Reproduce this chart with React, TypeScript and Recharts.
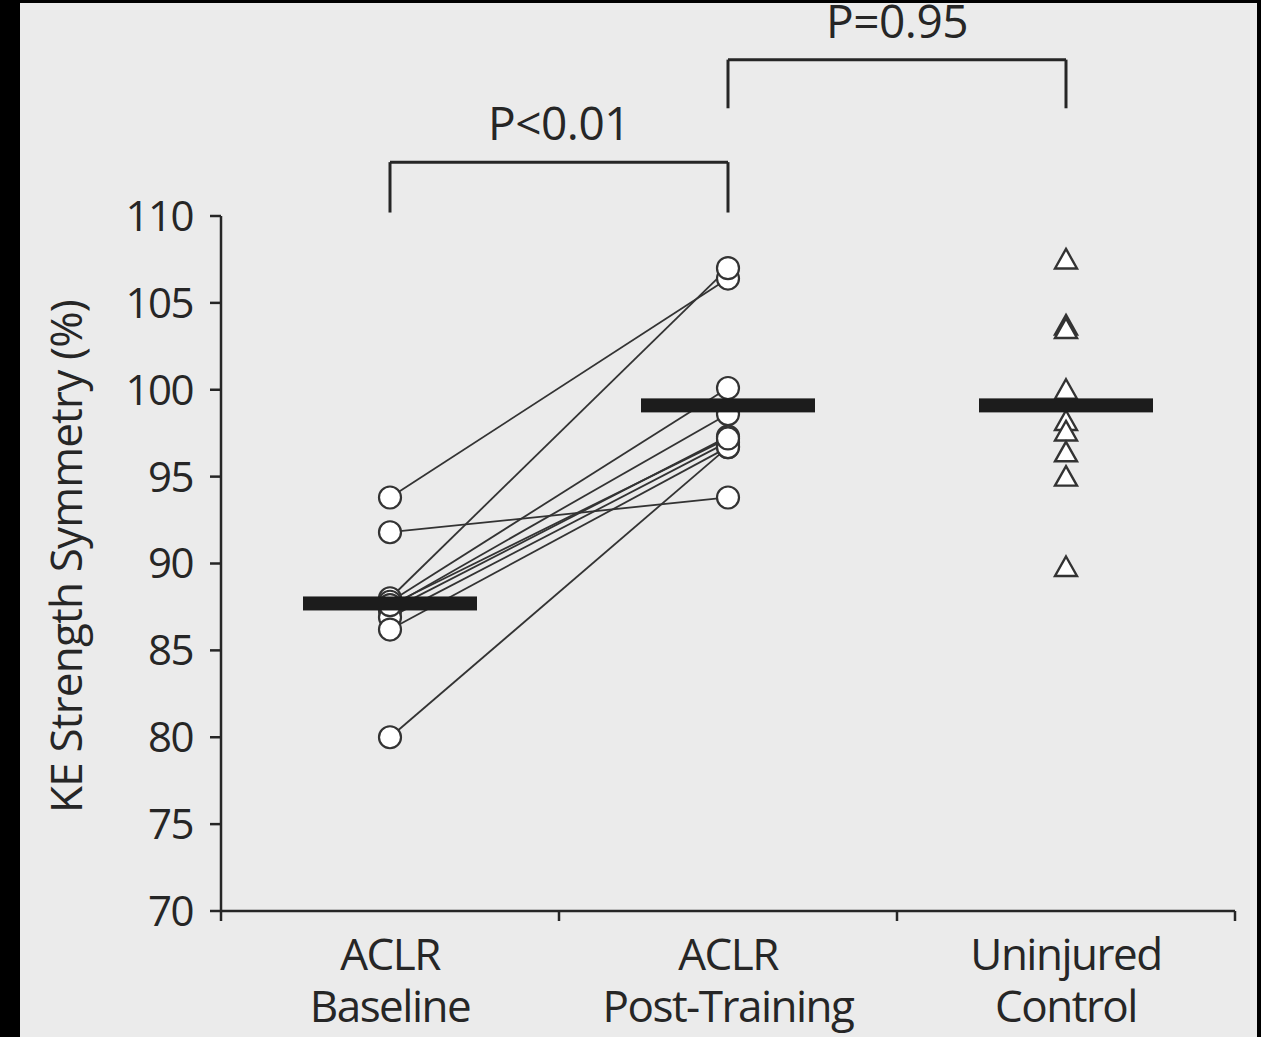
import { ComposedChart, Line, Scatter, XAxis, YAxis, ReferenceLine } from "recharts";

// group positions on a 0..3 numeric axis (one unit per group)
const GROUP_X = [0.5, 1.5, 2.5];
const GROUP_LABELS = [
  ["ACLR", "Baseline"],
  ["ACLR", "Post-Training"],
  ["Uninjured", "Control"],
];
const GROUP_EDGES = [0, 1, 2, 3];

// paired ACLR subjects, same order in both arrays
const BASELINE = [93.8, 91.8, 80.0, 88.0, 87.8, 87.5, 87.3, 86.9, 86.2, 87.6];
const POST_TRAINING = [106.4, 93.8, 96.7, 107.0, 100.1, 98.6, 97.3, 97.0, 96.7, 97.2];
const CONTROL = [107.5, 103.7, 103.5, 100.0, 98.2, 97.6, 96.4, 95.0, 89.8];
const GROUP_MEANS = [87.7, 99.1, 99.1];

const Y_TICKS = [70, 75, 80, 85, 90, 95, 100, 105, 110];

// significance brackets: [from group, to group], bar height, leg foot
const BRACKET_SPANS = [
  [0.5, 1.5],
  [1.5, 2.5],
];
const BRACKET_TOPS = [113.1, 119.0];
const BRACKET_FEET = [110.2, 116.2];
const BRACKET_LABELS = ["P<0.01", "P=0.95"];

const INK = "#262626";
const FONT = "'Open Sans', 'Noto Sans', sans-serif";

const pairs = BASELINE.map((b, i) => [
  { x: GROUP_X[0], y: b },
  { x: GROUP_X[1], y: POST_TRAINING[i] },
]);
const baselinePts = BASELINE.map((y) => ({ x: GROUP_X[0], y }));
const postPts = POST_TRAINING.map((y) => ({ x: GROUP_X[1], y }));
const controlPts = CONTROL.map((y) => ({ x: GROUP_X[2], y }));
const meanPts = GROUP_MEANS.map((y, i) => ({ x: GROUP_X[i], y }));

const OpenCircle = (p: any) => (
  <circle cx={p.cx} cy={p.cy} r={11} fill="#fff" stroke="#333" strokeWidth={2.2} />
);

const OpenTriangle = (p: any) => (
  <path
    d={`M${p.cx},${p.cy - 10.5}L${p.cx + 11},${p.cy + 9}L${p.cx - 11},${p.cy + 9}Z`}
    fill="#fff"
    stroke="#333"
    strokeWidth={2.4}
  />
);

const MeanBar = (p: any) => (
  <rect x={p.cx - 87} y={p.cy - 7} width={174} height={14} fill="#1c1c1c" />
);

// edge axis only draws tick marks
const NoLabel = () => <g />;

const GroupTick = (p: any) => {
  const idx = GROUP_X.indexOf(p.payload.value);
  if (idx < 0) return <g />;
  const [l1, l2] = GROUP_LABELS[idx];
  return (
    <text x={p.x} textAnchor="middle" fontFamily={FONT} fontSize={44} fill={INK} letterSpacing={-1.5}>
      <tspan x={p.x} y={p.y + 39}>{l1}</tspan>
      <tspan x={p.x} y={p.y + 91}>{l2}</tspan>
    </text>
  );
};

const YTitle = (p: any) => {
  const vb = p.viewBox;
  const cx = vb.x + 45;
  const cy = vb.y + vb.height / 2 - 7;
  return (
    <text
      x={cx}
      y={cy}
      transform={`rotate(-90 ${cx} ${cy})`}
      textAnchor="middle"
      dominantBaseline="central"
      fontFamily={FONT}
      fontSize={44}
      fill={INK}
      letterSpacing={-0.8}
    >
      KE Strength Symmetry (%)
    </text>
  );
};

export default function App() {
  return (
    <div style={{ position: "fixed", left: 0, top: 0, width: 1261, height: 1037, background: "#000" }}>
      <div style={{ position: "absolute", left: 20, top: 3, width: 1237, height: 1034, background: "#ebebeb" }}>
        <ComposedChart width={1237} height={1034} margin={{ top: 213, right: 22, bottom: 0, left: 0 }}>
          <XAxis
            type="number"
            dataKey="x"
            domain={[0, 3]}
            ticks={GROUP_EDGES}
            tick={<NoLabel />}
            tickSize={10}
            height={12}
            interval={0}
            axisLine={{ stroke: INK, strokeWidth: 2.5 }}
            tickLine={{ stroke: INK, strokeWidth: 2.5 }}
          />
          <XAxis
            xAxisId="labels"
            type="number"
            dataKey="x"
            domain={[0, 3]}
            ticks={GROUP_X}
            axisLine={false}
            tickLine={false}
            height={114}
            tick={<GroupTick />}
            interval={0}
          />
          <YAxis
            type="number"
            dataKey="y"
            domain={[70, 110]}
            ticks={Y_TICKS}
            width={201}
            tickSize={11}
            tickMargin={17}
            axisLine={{ stroke: INK, strokeWidth: 2.5 }}
            tickLine={{ stroke: INK, strokeWidth: 2.5 }}
            tick={{ fontSize: 42, fontFamily: FONT, fill: INK, letterSpacing: -1.5 }}
            interval={0}
            label={{ content: <YTitle /> }}
          />

          {pairs.map((pts, i) => (
            <Line
              key={i}
              data={pts}
              dataKey="y"
              stroke="#333"
              strokeWidth={1.8}
              dot={false}
              activeDot={false}
              isAnimationActive={false}
            />
          ))}

          <Scatter data={baselinePts} dataKey="y" shape={<OpenCircle />} isAnimationActive={false} />
          <Scatter data={postPts} dataKey="y" shape={<OpenCircle />} isAnimationActive={false} />
          <Scatter data={controlPts} dataKey="y" shape={<OpenTriangle />} isAnimationActive={false} />
          <Scatter
            xAxisId="labels"
            data={meanPts}
            dataKey="y"
            shape={<MeanBar />}
            isAnimationActive={false}
          />

          {BRACKET_SPANS.map(([a, b], i) => (
            <ReferenceLine
              key={`top-${i}`}
              segment={[
                { x: a, y: BRACKET_TOPS[i] },
                { x: b, y: BRACKET_TOPS[i] },
              ]}
              stroke={INK}
              strokeWidth={3}
              ifOverflow="visible"
              label={{
                value: BRACKET_LABELS[i],
                position: "top",
                offset: 22,
                fontSize: 46,
                fontFamily: FONT,
                fill: INK,
                letterSpacing: -0.5,
              }}
            />
          ))}
          {BRACKET_SPANS.flatMap(([a, b], i) =>
            [a, b].map((x, j) => (
              <ReferenceLine
                key={`leg-${i}-${j}`}
                segment={[
                  { x, y: BRACKET_TOPS[i] },
                  { x, y: BRACKET_FEET[i] },
                ]}
                stroke={INK}
                strokeWidth={3}
                ifOverflow="visible"
              />
            ))
          )}
        </ComposedChart>
      </div>
    </div>
  );
}
